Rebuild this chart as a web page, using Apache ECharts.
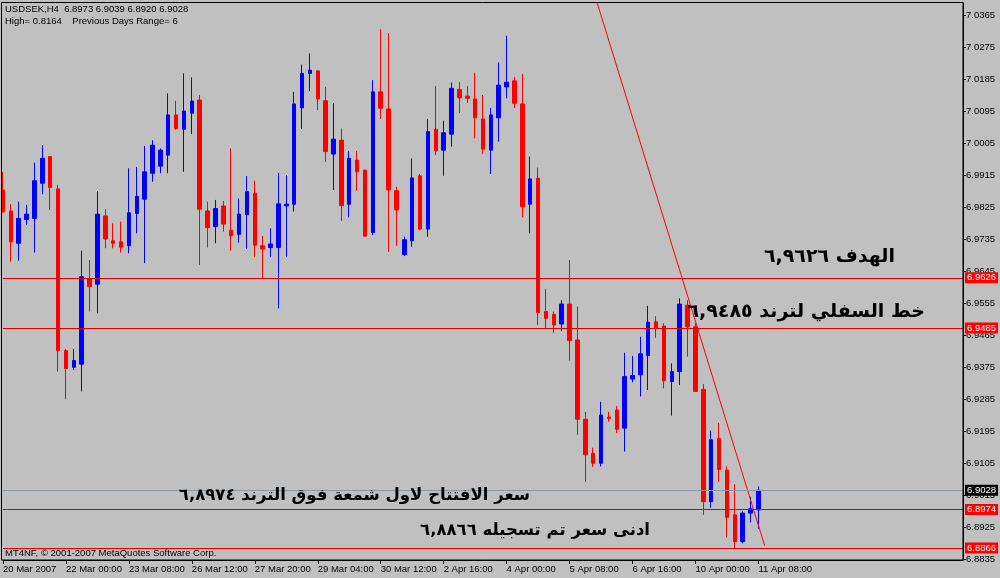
<!DOCTYPE html>
<html>
<head>
<meta charset="utf-8">
<script src="https://cdn.jsdelivr.net/npm/echarts@6/dist/echarts.min.js"></script>
<style>
  html, body { margin: 0; padding: 0; background: #c0c0c0; }
  #main { width: 1000px; height: 578px; }
</style>
</head>
<body>
<div id="main"></div>
<script>
  // USDSEK H4 bars, 20 Mar 2007 16:00 .. 11 Apr 2007 08:00
  var opens = [6.9873, 6.9814, 6.9723, 6.9790, 6.9793, 6.9892, 6.9967, 6.9876, 6.9421, 6.9374,
    6.9383, 6.9624, 6.9608, 6.9800, 6.9730, 6.9727, 6.9716, 6.9807, 6.9847, 6.9920,
    6.9940, 6.9971, 7.0084, 7.0044, 7.0089, 7.0126, 6.9814, 6.9770, 6.9828, 6.9760,
    6.9748, 6.9803, 6.9864, 6.9716, 6.9711, 6.9711, 6.9828, 6.9833, 7.0104, 7.0201,
    7.0208, 7.0124, 6.9974, 7.0013, 6.9833, 6.9957, 6.9929, 6.9753, 7.0149, 7.0101,
    6.9871, 6.9691, 6.9730, 6.9913, 6.9763, 7.0044, 6.9985, 7.0030, 7.0156, 7.0137,
    7.0129, 7.0073, 6.9985, 7.0076, 7.0163, 7.0180, 7.0115, 6.9833, 6.9906, 6.9531,
    6.9523, 6.9496, 6.9552, 6.9451, 6.9228, 6.9132, 6.9104, 6.9234, 6.9254, 6.9203,
    6.9341, 6.9353, 6.9407, 6.9502, 6.9490, 6.9334, 6.9362, 6.9549, 6.9488, 6.9312,
    6.8996, 6.9174, 6.9085, 6.8959, 6.8884, 6.8964, 6.8973];
  var closes = [6.9812, 6.9727, 6.9793, 6.9805, 6.9899, 6.9962, 6.9880, 6.9421, 6.9371, 6.9393,
    6.9629, 6.9601, 6.9805, 6.9735, 6.9723, 6.9712, 6.9809, 6.9855, 6.9924, 6.9999,
    6.9985, 7.0084, 7.0046, 7.0095, 7.0123, 6.9819, 6.9767, 6.9821, 6.9777, 6.9744,
    6.9805, 6.9868, 6.9718, 6.9707, 6.9721, 6.9834, 6.9833, 7.0115, 7.0201, 7.0210,
    7.0129, 6.9981, 7.0016, 6.9829, 6.9962, 6.9924, 6.9743, 7.0149, 7.0103, 6.9873,
    6.9817, 6.9733, 6.9907, 6.9763, 7.0037, 6.9983, 7.0034, 7.0159, 7.0132, 7.0131,
    7.0076, 6.9988, 7.0084, 7.0168, 7.0176, 7.0117, 6.9826, 6.9904, 6.9528, 6.9512,
    6.9493, 6.9552, 6.9449, 6.9228, 6.9128, 6.9104, 6.9240, 6.9230, 6.9200, 6.9348,
    6.9351, 6.9412, 6.9501, 6.9484, 6.9336, 6.9362, 6.9552, 6.9488, 6.9306, 6.8996,
    6.9170, 6.9087, 6.8952, 6.8884, 6.8964, 6.8976, 6.9028];
  var lows = [6.9808, 6.9671, 6.9674, 6.9774, 6.9697, 6.9861, 6.9817, 6.9362, 6.9284, 6.9367,
    6.9306, 6.9531, 6.9526, 6.9709, 6.9709, 6.9697, 6.9695, 6.9751, 6.9667, 6.9896,
    6.9920, 6.9920, 7.0042, 6.9924, 7.0030, 6.9662, 6.9711, 6.9723, 6.9756, 6.9702,
    6.9725, 6.9707, 6.9685, 6.9624, 6.9685, 6.9540, 6.9684, 6.9812, 7.0044, 7.0151,
    7.0098, 6.9952, 6.9873, 6.9786, 6.9796, 6.9871, 6.9743, 6.9746, 7.0073, 6.9699,
    6.9716, 6.9687, 6.9713, 6.9760, 6.9741, 6.9971, 6.9913, 6.9995, 7.0090, 7.0118,
    7.0018, 6.9974, 6.9918, 7.0009, 7.0131, 7.0104, 6.9796, 6.9751, 6.9493, 6.9484,
    6.9470, 6.9476, 6.9393, 6.9184, 6.9052, 6.9094, 6.9095, 6.9221, 6.9189, 6.9137,
    6.9332, 6.9292, 6.9310, 6.9457, 6.9315, 6.9238, 6.9324, 6.9404, 6.9306, 6.8959,
    6.8979, 6.9052, 6.8895, 6.8866, 6.8879, 6.8938, 6.8920];
  var highs = [6.9924, 6.9833, 6.9840, 6.9831, 6.9950, 6.9999, 6.9967, 6.9887, 6.9426, 6.9426,
    6.9702, 6.9676, 6.9870, 6.9819, 6.9779, 6.9784, 6.9934, 6.9938, 6.9997, 7.0013,
    6.9990, 7.0145, 7.0124, 7.0201, 7.0190, 7.0140, 6.9840, 6.9845, 6.9842, 6.9990,
    6.9849, 6.9912, 6.9899, 6.9744, 6.9765, 6.9921, 6.9915, 7.0149, 7.0226, 7.0257,
    7.0210, 7.0163, 7.0118, 7.0046, 6.9983, 6.9983, 6.9929, 7.0182, 7.0325, 7.0314,
    6.9882, 6.9742, 6.9962, 6.9918, 7.0073, 7.0165, 7.0068, 7.0175, 7.0177, 7.0165,
    7.0203, 7.0140, 7.0104, 7.0232, 7.0307, 7.0191, 7.0199, 6.9967, 6.9936, 6.9595,
    6.9531, 6.9563, 6.9676, 6.9545, 6.9249, 6.9148, 6.9277, 6.9249, 6.9265, 6.9415,
    6.9406, 6.9460, 6.9547, 6.9518, 6.9498, 6.9385, 6.9568, 6.9563, 6.9498, 6.9327,
    6.9196, 6.9218, 6.9095, 6.9045, 6.8970, 6.9010, 6.9039];

  // one label every 8 bars
  var tickLabels = ['20 Mar 2007', '22 Mar 00:00', '23 Mar 08:00', '26 Mar 12:00', '27 Mar 20:00',
    '29 Mar 04:00', '30 Mar 12:00', '2 Apr 16:00', '4 Apr 00:00', '5 Apr 08:00',
    '6 Apr 16:00', '10 Apr 00:00', '11 Apr 08:00'];
  var yTicks = [7.0365, 7.0275, 7.0185, 7.0095, 7.0005, 6.9915, 6.9825, 6.9735, 6.9645,
    6.9555, 6.9465, 6.9375, 6.9285, 6.9195, 6.9105, 6.9015, 6.8925, 6.8835];

  var levels = [6.9626, 6.9485, 6.8974, 6.8866];   // red horizontal lines
  var bidPrice = 6.9028;
  var trendLine = [[75.5, 7.0400], [96.8, 6.8872]];   // [bar index, price]

  var notes = ['الهدف ٦,٩٦٢٦', 'خط السفلي لترند ٦,٩٤٨٥',
    'سعر الافتتاح لاول شمعة فوق الترند ٦,٨٩٧٤', 'ادنى سعر تم تسجيله ٦,٨٨٦٦'];
  var header = ['USDSEK,H4  6.8973 6.9039 6.8920 6.9028', 'High= 0.8164    Previous Days Range= 6'];
  var copyright = 'MT4NF, © 2001-2007 MetaQuotes Software Corp.';

  var totalSlots = 123;   // empty space to the right of the last bar
  var categories = [];
  for (var i = 0; i < totalSlots; i++) {
    categories.push(i % 8 === 0 && i / 8 < tickLabels.length ? tickLabels[i / 8] : '#' + i);
  }
  var candleData = opens.map(function (o, i) {
    return [o, closes[i], lows[i], highs[i]];
  });
  var showTick = function (i) { return i % 8 === 0 && i / 8 < tickLabels.length; };

  var uiFont = 'Liberation Sans';
  var lineData = levels.map(function (v) {
    return { yAxis: v, lineStyle: { color: '#e00000' }, label: { backgroundColor: '#ff0000' } };
  });
  lineData.push({ yAxis: bidPrice, lineStyle: { color: '#8a98a4' }, label: { backgroundColor: '#000000' } });

  var notePos = [[895, 257, 19], [925, 312, 19], [530, 496, 16.5], [650, 531, 16.5]];
  var graphics = [{
    type: 'rect', silent: true, z: 10,
    shape: { x: 1.5, y: 2.5, width: 961.5, height: 557.5 },
    style: { fill: null, stroke: '#000', lineWidth: 1 }
  }];
  header.forEach(function (t, k) {
    graphics.push({ type: 'text', x: 5, y: 4 + k * 12, z: 10,
      style: { text: t, fill: '#000', font: '9.5px "' + uiFont + '"' } });
  });
  graphics.push({ type: 'text', x: 5, y: 548, z: 10,
    style: { text: copyright, fill: '#000', font: '9.5px "' + uiFont + '"' } });
  notes.forEach(function (t, k) {
    graphics.push({ type: 'text', x: notePos[k][0], y: notePos[k][1], z: 10,
      style: { text: t, fill: '#000', font: 'bold ' + notePos[k][2] + 'px "DejaVu Sans"',
        align: 'right', verticalAlign: 'middle' } });
  });

  var chart = echarts.init(document.getElementById('main'));
  chart.setOption({
    animation: false,
    backgroundColor: '#c0c0c0',
    grid: { left: 3, right: 37, top: 3, bottom: 18 },
    xAxis: [{
      type: 'category',
      data: categories,
      boundaryGap: false,
      axisLine: { show: true, onZero: false, lineStyle: { color: '#000' } },
      axisTick: { show: true, interval: showTick, length: 4, lineStyle: { color: '#000' } },
      axisLabel: { interval: showTick, align: 'left', margin: 4, color: '#000',
        fontSize: 9.5, fontFamily: uiFont },
      splitLine: { show: false }
    }, {
      type: 'value', min: 0, max: totalSlots - 1, show: false
    }],
    yAxis: {
      type: 'value',
      position: 'right',
      min: 6.8832,
      max: 7.0399,
      scale: true,
      axisLine: { show: true, onZero: false, lineStyle: { color: '#000' } },
      axisTick: { show: true, length: 3, customValues: yTicks, lineStyle: { color: '#000' } },
      axisLabel: { customValues: yTicks, margin: 3, color: '#000', fontSize: 9.5, fontFamily: uiFont,
        formatter: function (v) { return v.toFixed(4); } },
      splitLine: { show: false }
    },
    series: [{
      type: 'candlestick',
      data: candleData,
      barWidth: 4,
      clip: false,
      itemStyle: { color: '#0000ff', color0: '#ff0000', borderColor: '#0000ff', borderColor0: '#ff0000', borderWidth: 1 },
      markLine: {
        silent: true,
        precision: 4,
        symbol: ['none', 'none'],
        lineStyle: { type: 'solid', width: 1 },
        label: {
          position: 'end', distance: 2, color: '#fff', fontSize: 9.5, fontFamily: uiFont,
          padding: [1, 2, 0, 2],
          formatter: function (p) { return Number(p.value).toFixed(4); }
        },
        data: lineData
      }
    }, {
      type: 'line',
      xAxisIndex: 1,
      data: trendLine,
      symbol: 'none',
      clip: true,
      lineStyle: { color: '#ff0000', width: 1 }
    }],
    graphic: graphics
  });
</script>
</body>
</html>
